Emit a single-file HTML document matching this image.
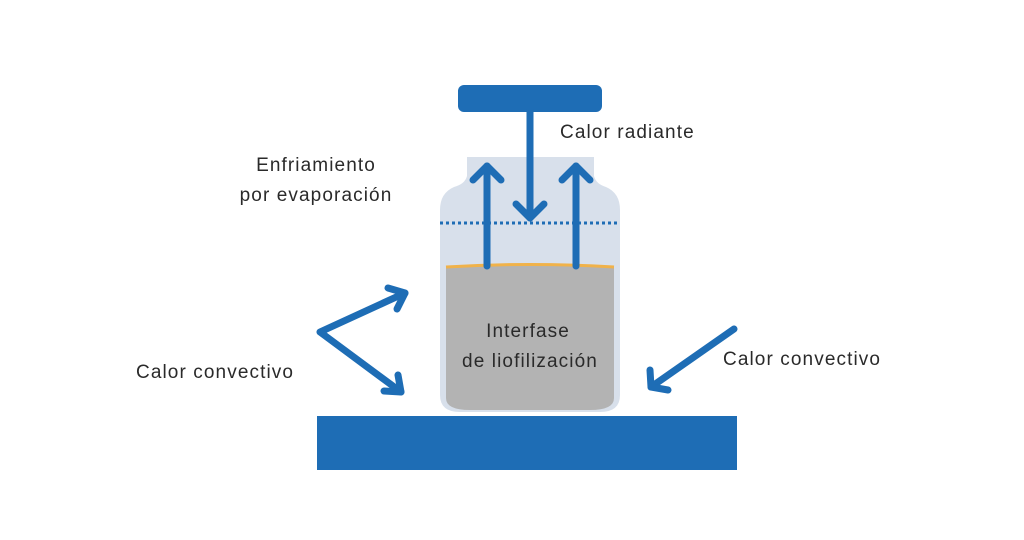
<!DOCTYPE html>
<html><head><meta charset="utf-8"><style>
body{margin:0;background:#fff;width:1024px;height:535px;overflow:hidden}
svg text{font-family:"Liberation Sans",sans-serif;font-size:19px;letter-spacing:1.1px;fill:#2a2a2a}
</style></head><body>
<svg width="1024" height="535" viewBox="0 0 1024 535">
<path d="M467 157 H594 V176 Q596 184 606 187 Q620 193 620 210 V395 Q620 412 600 412 H460 Q440 412 440 395 V210 Q440 193 454 187 Q465 184 467 176 Z" fill="#d8e0eb"/>
<path d="M446 266 Q530 262 614 266 V398 Q614 410 590 410 H470 Q446 410 446 398 Z" fill="#b3b3b3"/>
<path d="M446 267 Q530 262 614 267" stroke="#f0b24a" stroke-width="3" fill="none"/>
<line x1="440" y1="223" x2="620" y2="223" stroke="#1e6db5" stroke-width="3" stroke-dasharray="3,3"/>
<rect x="458" y="85" width="144" height="27" rx="6" fill="#1e6db5"/>
<g stroke="#1e6db5" stroke-width="7" fill="none" stroke-linecap="round" stroke-linejoin="round">
<line x1="530" y1="110" x2="530" y2="218"/><polyline points="516,204 530,218 544,204"/>
<line x1="487" y1="266" x2="487" y2="166"/><polyline points="473,180 487,166 501,180"/>
<line x1="576" y1="266" x2="576" y2="166"/><polyline points="562,180 576,166 590,180"/>
<polyline points="405,293 320,332 401,392"/>
<polyline points="388,288 405,293 397,309"/>
<polyline points="384,391 401,392 398,375"/>
<line x1="734" y1="329" x2="651" y2="387"/><polyline points="650,370 651,387 668,390"/>
</g>
<rect x="317" y="416" width="420" height="54" fill="#1e6db5"/>
<text x="560" y="138">Calor radiante</text>
<text x="316" y="171" text-anchor="middle">Enfriamiento</text>
<text x="316" y="201" text-anchor="middle">por evaporación</text>
<text x="136" y="378">Calor convectivo</text>
<text x="723" y="365">Calor convectivo</text>
<text x="528" y="337" text-anchor="middle">Interfase</text>
<text x="530" y="367" text-anchor="middle">de liofilización</text>
</svg>
</body></html>
